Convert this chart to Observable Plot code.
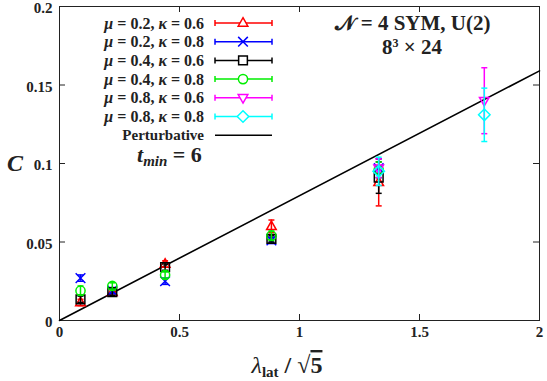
<!DOCTYPE html>
<html><head><meta charset="utf-8">
<script src="https://cdn.jsdelivr.net/npm/d3@7"></script>
<script src="https://cdn.jsdelivr.net/npm/@observablehq/plot@0.6"></script>
<style>body{margin:0;background:#fff} svg{display:block;background:#fff}</style>
</head><body><div id="chart"></div>
<script>
// ---- data ----
const xTicks = [0, 0.5, 1, 1.5, 2];
const yTicks = [0, 0.05, 0.1, 0.15, 0.2];
const muLabels = ["0.2", "0.2", "0.4", "0.4", "0.8", "0.8"];
const kappaLabels = ["0.6", "0.8", "0.6", "0.8", "0.6", "0.8"];
const seriesColors = ["#ff0000", "#0000ff", "#000000", "#00ee00", "#ff00ff", "#00ffff"];
const seriesShapes = ["triUp", "cross", "square", "circle", "triDown", "diamond"];

const xLow = [0.0875, 0.22, 0.44, 0.883, 1.33];
const xHigh = [1.33, 1.77];

const yS1 = [0.0115, 0.018, 0.036, 0.060, 0.088];
const eS1 = [0.002, 0.002, 0.002, 0.004, 0.015];
const yS2 = [0.027, 0.019, 0.025, 0.051, 0.097];
const eS2 = [0.002, 0.002, 0.002, 0.002, 0.006];
const yS3 = [0.0135, 0.018, 0.034, 0.052, 0.091];
const eS3 = [0.002, 0.002, 0.002, 0.002, 0.010];
const yS4 = [0.019, 0.022, 0.029, 0.054, 0.096];
const eS4 = [0.003, 0.002, 0.002, 0.003, 0.005];
const yS5 = [0.097, 0.140];
const eS5 = [0.006, 0.021];
const yS6 = [0.095, 0.131];
const eS6 = [0.009, 0.017];

const perturbSlope = 0.0795;
const perturbX = [0, 2];

// ---- build table ----
const seriesY = [yS1, yS2, yS3, yS4, yS5, yS6];
const seriesE = [eS1, eS2, eS3, eS4, eS5, eS6];
const seriesX = [xLow, xLow, xLow, xLow, xHigh, xHigh];
const points = [];
seriesY.forEach((ys, s) => ys.forEach((y, i) => points.push({
  s, x: seriesX[s][i], y, lo: y - seriesE[s][i], hi: y + seriesE[s][i]
})));
const perturb = perturbX.map(x => ({x, y: perturbSlope * x}));

// ---- symbols ----
const rad = size => Math.sqrt(size / Math.PI);
const shapes = {
  triUp: {draw(c, size) { const r = rad(size); c.moveTo(0, -r * 1.15); c.lineTo(r * 1.05, r * 0.7); c.lineTo(-r * 1.05, r * 0.7); c.closePath(); }},
  triDown: {draw(c, size) { const r = rad(size); c.moveTo(0, r * 1.15); c.lineTo(r * 1.05, -r * 0.7); c.lineTo(-r * 1.05, -r * 0.7); c.closePath(); }},
  cross: {draw(c, size) { const r = rad(size) * 1.05; c.moveTo(-r, -r); c.lineTo(r, r); c.moveTo(-r, r); c.lineTo(r, -r); }},
  square: {draw(c, size) { const r = rad(size) * 0.95; c.rect(-r, -r, 2 * r, 2 * r); }},
  circle: {draw(c, size) { const r = rad(size); c.moveTo(r, 0); c.arc(0, 0, r, 0, 2 * Math.PI); }},
  diamond: {draw(c, size) { const r = rad(size) * 1.25; c.moveTo(0, -r); c.lineTo(r, 0); c.lineTo(0, r); c.lineTo(-r, 0); c.closePath(); }},
  cap: {draw(c, size) { const r = rad(size); c.moveTo(-r, 0); c.lineTo(r, 0); }}
};

const W = 547, H = 381, mL = 59, mR = 8, mT = 6, mB = 61;
const fw = W - mL - mR, fh = H - mT - mB, tick = 6;
const FONT = "Liberation Serif, Times New Roman, serif";

const marks = [
  Plot.frame({stroke: "#222", strokeWidth: 1}),
  Plot.ruleX(xTicks, {x: d => d, insetTop: fh - tick, stroke: "#222"}),
  Plot.ruleX(xTicks, {x: d => d, insetBottom: fh - tick, stroke: "#222"}),
  Plot.ruleY(yTicks, {y: d => d, insetRight: fw - tick, stroke: "#222"}),
  Plot.ruleY(yTicks, {y: d => d, insetLeft: fw - tick, stroke: "#222"}),
  Plot.axisX({ticks: xTicks, tickSize: 0, tickPadding: 6, tickFormat: d => String(d), label: null, fontSize: 15, fontWeight: "bold", fill: "#222"}),
  Plot.axisY({ticks: yTicks, tickSize: 0, tickPadding: 7, dy: 2, tickFormat: d => String(d), label: null, fontSize: 15, fontWeight: "bold", fill: "#222"}),
  Plot.line(perturb, {x: "x", y: "y", stroke: "black", strokeWidth: 1.6})
];
for (let s = 0; s < 6; s++) {
  const d = points.filter(p => p.s === s);
  const col = seriesColors[s];
  marks.push(
    Plot.ruleX(d, {x: "x", y1: "lo", y2: "hi", stroke: col, strokeWidth: 1.5}),
    Plot.dot(d, {x: "x", y: "lo", symbol: shapes.cap, r: 3, stroke: col, strokeWidth: 1.5}),
    Plot.dot(d, {x: "x", y: "hi", symbol: shapes.cap, r: 3, stroke: col, strokeWidth: 1.5}),
    Plot.dot(d, {x: "x", y: "y", symbol: shapes[seriesShapes[s]], r: 4.6, stroke: col, fill: "none", strokeWidth: 1.5})
  );
}

const plot = Plot.plot({
  width: W, height: H,
  marginLeft: mL, marginRight: mR, marginTop: mT, marginBottom: mB,
  style: {fontFamily: FONT, background: "#fff", overflow: "visible"},
  x: {domain: [0, 2]},
  y: {domain: [0, 0.2]},
  marks
});
document.getElementById("chart").appendChild(plot);

// ---- legend and annotations ----
const svg = d3.select(plot);
const g = svg.append("g").attr("font-family", FONT).attr("font-weight", "bold").attr("fill", "#222").attr("text-anchor", "start");
for (let i = 0; i < 6; i++) {
  const y = 23 + i * 18.7;
  const t = g.append("text").attr("x", 204).attr("y", y + 5.5).attr("text-anchor", "end").attr("font-size", 16);
  t.append("tspan").attr("font-style", "italic").text("μ");
  t.append("tspan").text(" = " + muLabels[i] + ", ");
  t.append("tspan").attr("font-style", "italic").text("κ");
  t.append("tspan").text(" = " + kappaLabels[i]);
  const col = seriesColors[i];
  g.append("line").attr("x1", 215).attr("x2", 272).attr("y1", y).attr("y2", y).attr("stroke", col).attr("stroke-width", 1.5);
  [215, 272].forEach(x => g.append("line").attr("x1", x).attr("x2", x).attr("y1", y - 3).attr("y2", y + 3).attr("stroke", col).attr("stroke-width", 1.5));
  g.append("path").attr("d", d3.symbol(shapes[seriesShapes[i]], Math.PI * 4.6 * 4.6)()).attr("transform", `translate(243,${y})`)
    .attr("fill", "white").attr("stroke", col).attr("stroke-width", 1.5);
}
const yp = 23 + 6 * 18.7;
g.append("text").attr("x", 204).attr("y", yp + 5).attr("text-anchor", "end").attr("font-size", 15).text("Perturbative");
g.append("line").attr("x1", 215).attr("x2", 272).attr("y1", yp).attr("y2", yp).attr("stroke", "black").attr("stroke-width", 1.6);

const tm = g.append("text").attr("x", 137).attr("y", 162).attr("text-anchor", "start").attr("font-size", 22);
tm.append("tspan").attr("font-style", "italic").text("t");
tm.append("tspan").attr("font-style", "italic").attr("font-size", 15).attr("dy", 4).text("min");
tm.append("tspan").attr("dy", -4).text(" = 6");

g.append("text").attr("x", 413).attr("y", 30).attr("text-anchor", "middle").attr("font-size", 21).text("𝒩 = 4 SYM, U(2)");
const t2 = g.append("text").attr("x", 412).attr("y", 54).attr("text-anchor", "middle").attr("font-size", 21);
t2.append("tspan").text("8");
t2.append("tspan").attr("font-size", 12).attr("dy", -7).text("3");
t2.append("tspan").attr("dy", 7).text(" × 24");

g.append("text").attr("x", 7).attr("y", 171).attr("text-anchor", "start").attr("font-size", 24).attr("font-style", "italic").text("C");

const xl = g.append("text").attr("x", 287).attr("y", 373).attr("text-anchor", "middle").attr("font-size", 24);
xl.append("tspan").attr("font-style", "italic").attr("font-weight", "normal").text("λ");
xl.append("tspan").attr("font-size", 15).attr("dy", 4).text("lat");
xl.append("tspan").attr("dy", -4).text(" / √");
xl.append("tspan").attr("text-decoration", "overline").text("5");
</script>
</body></html>
